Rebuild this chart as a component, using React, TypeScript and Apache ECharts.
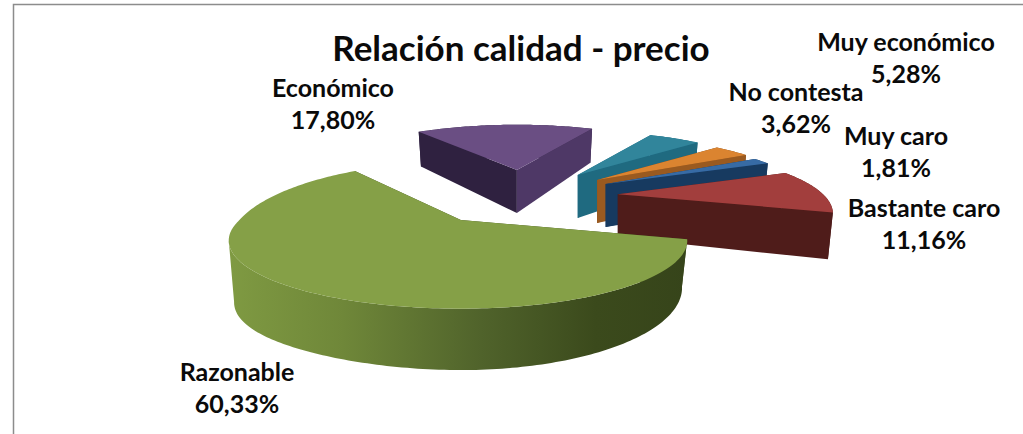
import React, { useEffect, useRef } from "react";
import * as echarts from "echarts";

const categories = ["Bastante caro", "Razonable", "Económico", "Muy económico", "No contesta", "Muy caro"];
const values = [11.16, 60.33, 17.8, 5.28, 3.62, 1.81];
const chartTitle = "Relación calidad - precio";

// Painter's order: back slices first
const drawOrder = [2, 3, 4, 5, 0, 1];

const topColors = ["#A23E3D", "#85A047", "#6A4E83", "#31859B", "#DB8430", "#376BA5"];
const cutColors = [
  ["#4F1C1A", "#4F1C1A"],
  ["#3B4A1C", "#3B4A1C"],
  ["#2F2140", "#4E3866"],
  ["#1F6A80", "#1F6A80"],
  ["#7A4518", "#9A5A20"],
  ["#173A60", "#173A60"],
];
const explode = [97, 105, 93, 94, 95, 95];
const nudgeX = [0, 0, 3, 0, 0, 0];
const sliceScale = [0.95, 1, 0.95, 0.92, 0.92, 0.92];
const backStretch = [1, 1.22, 1, 1, 1, 1];
const leftStretch = [1, 1.025, 1, 1, 1, 1];
const leftThicken = [0, 0.35, 0, 0, 0, 0];
const labelPos = [
  [924, 223],
  [237, 387],
  [333, 103],
  [906, 57],
  [796, 107],
  [896, 151],
];

const CENTER_X = 521;
const CENTER_Y = 196;
const RX = 216;
const RY = 62;
const PERSPECTIVE = 0.3;
const THICK = 43;
const EXPLODE_Y = 0.28;
const START_ANGLE = -23.8;
const TEXT_FONT = "Lato";
const LABEL_SIZE = 25;

const total = values.reduce((a, b) => a + b, 0);
const rad = (d: number) => (d * Math.PI) / 180;

function sliceAngles(i: number) {
  let start = START_ANGLE;
  for (let k = 0; k < i; k++) start += (values[k] / total) * 360;
  return [start, start + (values[i] / total) * 360];
}

function formatLabel(i: number) {
  return categories[i] + "\n" + values[i].toFixed(2).replace(".", ",") + "%";
}

function renderSlice(_params: any, api: any) {
  const i = api.value(0) as number;
  const [a0, a1] = sliceAngles(i);
  const mid = rad((a0 + a1) / 2);
  const ax = CENTER_X + nudgeX[i] + explode[i] * Math.cos(mid);
  const ay = CENTER_Y + explode[i] * EXPLODE_Y * Math.sin(mid);

  const point = (deg: number, bottom: boolean) => {
    const u = Math.cos(rad(deg));
    const v = Math.sin(rad(deg));
    const s = 1 / (1 - PERSPECTIVE * v);
    const x = RX * u * s * sliceScale[i] * (u < 0 ? leftStretch[i] : 1);
    const y = RY * v * s * sliceScale[i] * (v < 0 ? backStretch[i] : 1);
    const left = Math.max(0, -u);
    const thick = THICK * s * (1 + leftThicken[i] * left * left * left);
    return bottom ? [ax + x * 0.977, ay + y + thick] : [ax + x, ay + y];
  };

  const top: number[][] = [];
  const low: number[][] = [];
  const steps = Math.max(6, Math.ceil(a1 - a0));
  for (let k = 0; k <= steps; k++) {
    const d = a0 + ((a1 - a0) * k) / steps;
    top.push(point(d, false));
    low.push(point(d, true));
  }
  const apexTop = [ax, ay];
  const apexLow = [ax, ay + THICK];

  // The wall is only seen up to the arc's leftmost point; stopping there
  // keeps its outline from crossing itself.
  let last = steps;
  let minX = Infinity;
  top.forEach((p, k) => {
    if (p[0] < minX) {
      minX = p[0];
      last = k;
    }
  });
  const wallEnd = Math.sin(mid) > 0.5 ? last : steps;

  const rimFill =
    i === 1
      ? new echarts.graphic.LinearGradient(0, 0, 1, 0, [
          { offset: 0, color: "#7F9A42" },
          { offset: 0.25, color: "#6F8739" },
          { offset: 0.55, color: "#50632B" },
          { offset: 0.8, color: "#3B4A1C" },
          { offset: 1, color: "#36441A" },
        ])
      : cutColors[i][0];

  const rim = {
    type: "polygon",
    shape: { points: [...top.slice(0, wallEnd + 1), ...low.slice(0, wallEnd + 1).reverse()] },
    style: { fill: rimFill },
  };
  const cutStart = {
    type: "polygon",
    shape: { points: [apexTop, top[0], low[0], apexLow] },
    style: { fill: cutColors[i][0] },
  };
  const cutEnd = {
    type: "polygon",
    shape: { points: [apexTop, top[steps], low[steps], apexLow] },
    style: { fill: cutColors[i][1] },
  };
  const face = {
    type: "polygon",
    shape: { points: [apexTop, ...top] },
    style: { fill: topColors[i] },
  };
  const label = {
    type: "text",
    style: {
      text: formatLabel(i),
      x: labelPos[i][0],
      y: labelPos[i][1],
      fill: "#0A0A0A",
      font: `bold ${LABEL_SIZE}px ${TEXT_FONT}`,
      align: "center",
      verticalAlign: "middle",
      lineHeight: 32,
    },
    z2: 100,
  };
  const sides = Math.sin(mid) > 0.5 ? [cutStart, cutEnd, rim] : [rim, cutStart, cutEnd];
  return { type: "group", children: [...sides, face, label] };
}

export default function App() {
  const ref = useRef<HTMLDivElement>(null);
  useEffect(() => {
    document.body.style.margin = "0";
    const chart = echarts.init(ref.current!, undefined, { renderer: "svg" });
    chart.setOption({
      animation: false,
      backgroundColor: "#FFFFFF",
      title: {
        text: chartTitle,
        left: 516,
        top: 24,
        textAlign: "center",
        textStyle: { fontFamily: TEXT_FONT, fontWeight: "bold", fontSize: 35, color: "#0A0A0A" },
      },
      graphic: [
        {
          type: "polyline",
          silent: true,
          shape: { points: [[13.5, 434], [13.5, 4.5], [1023, 4.5]] },
          style: { fill: "none", stroke: "#8C8C8C", lineWidth: 1.5 },
        },
      ],
      series: [
        {
          type: "custom",
          coordinateSystem: "none",
          silent: true,
          renderItem: renderSlice,
          data: drawOrder.map((i) => ({ name: categories[i], value: [i, values[i]] })),
        },
      ],
    });
    return () => chart.dispose();
  }, []);
  return <div ref={ref} style={{ width: 1023, height: 434 }} />;
}
